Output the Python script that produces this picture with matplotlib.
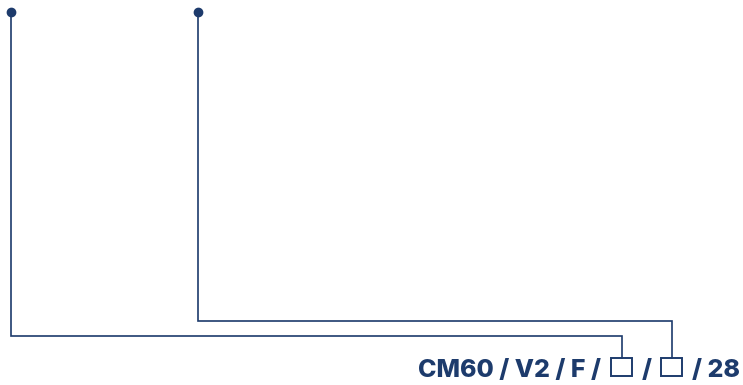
import matplotlib.pyplot as plt
from matplotlib.patches import Rectangle

# ============================
# Data
# ============================

code_parts = ["CM60 / V2 / F /", "/", "/ 28"]
part_x = [601, 647, 692]
part_ha = ["right", "center", "left"]

# option boxes (x-left) and the lead-line that ends in each
box_left = [611, 661]
start_x = [11, 198]
lead_y = [336, 321]

navy = "#1d3b6c"

# ============================
# Figure in pixel coordinates
# ============================

W, H = 743, 385
fig = plt.figure(figsize=(W / 100, H / 100), dpi=100)
ax = fig.add_axes([0, 0, 1, 1])
ax.set_xlim(0, W)
ax.set_ylim(H, 0)
ax.axis("off")

box_w, box_h = 21, 18
box_top = 358
dot_y = 12

for sx, ly, bx in zip(start_x, lead_y, box_left):
    cx = bx + box_w / 2
    ax.plot([sx, sx, cx, cx], [dot_y, ly, ly, box_top],
            color=navy, lw=1.2, solid_joinstyle="miter")
    ax.plot(sx, dot_y, "o", color=navy, ms=6)
    ax.add_patch(Rectangle((bx, box_top), box_w, box_h,
                           fill=False, edgecolor=navy, lw=1.4))

for txt, x, ha in zip(code_parts, part_x, part_ha):
    ax.text(x, 376.5, txt, ha=ha, va="baseline", color=navy,
            fontsize=18, fontweight="heavy", family="Inter")

fig.savefig("out.png", dpi=100)
